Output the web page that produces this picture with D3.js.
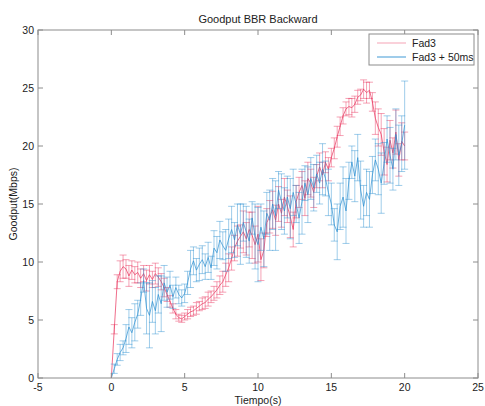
<!DOCTYPE html>
<html>
<head>
<meta charset="utf-8">
<script src="https://cdn.jsdelivr.net/npm/d3@7"></script>
<style>
  body { margin: 0; background: #fff; }
  text { font-family: "Liberation Sans", Arial, sans-serif; }
</style>
</head>
<body>
<svg id="chart" width="485" height="406"></svg>
<script>
// time axis (s), one sample every 0.2 s
const times = d3.range(0, 101).map(i => +(i * 0.2).toFixed(1));

// Fad3
const fad3 = [
  0, 4.2, 8.3, 9.2, 9.6, 9.4, 8.8, 9.3, 8.9, 9.1,
  8.6, 9.0, 8.4, 8.9, 8.5, 9.0, 8.7, 8.3, 7.8, 7.2,
  6.6, 6.0, 5.5, 5.2, 5.1, 5.3, 5.5, 5.7, 5.8, 6.0,
  6.2, 6.4, 6.5, 6.8, 7.0, 7.3, 7.6, 8.0, 8.3, 8.9,
  9.5, 10.3, 11.2, 11.8, 12.2, 12.6, 12.0, 12.8, 12.3, 11.5,
  12.4, 10.2, 11.0, 13.4, 13.9, 14.5, 13.6, 15.0, 14.2, 15.6,
  14.8, 13.9, 12.8, 15.2, 16.0, 16.6, 15.5, 17.2, 16.8, 16.0,
  17.4, 18.2, 17.5, 18.6, 18.0, 19.0, 19.8, 20.8, 21.7, 22.6,
  23.2, 23.4, 23.3, 23.6, 24.2, 24.4, 24.9, 24.6, 24.8, 23.8,
  22.4, 21.6, 21.0, 19.5, 18.4, 20.5, 19.4, 21.2, 18.8, 20.4,
  20.0
];
const fad3Err = [
  0, 0.4, 0.6, 0.9, 1.0, 0.8, 0.9, 0.8, 0.7, 0.9,
  0.8, 0.7, 0.9, 0.8, 0.7, 0.9, 0.8, 0.7, 0.8, 0.6,
  0.5, 0.4, 0.4, 0.3, 0.3, 0.3, 0.4, 0.4, 0.4, 0.5,
  0.4, 0.5, 0.5, 0.6, 0.5, 0.6, 0.7, 0.8, 0.9, 1.0,
  1.2, 1.0, 1.1, 1.3, 1.0, 1.8, 1.4, 1.5, 2.0, 1.6,
  2.4, 1.8, 1.5, 1.2, 1.4, 1.6, 1.3, 1.5, 1.2, 1.6,
  1.4, 1.8, 1.5, 1.4, 1.3, 1.2, 1.5, 1.4, 1.2, 1.3,
  1.0, 1.2, 1.1, 0.9, 1.0, 0.8, 0.9, 0.9, 0.8, 0.7,
  0.6, 0.7, 0.8, 0.7, 0.6, 0.5, 0.8, 0.9, 0.7, 0.8,
  1.4, 1.6, 1.8, 2.0, 1.5, 1.7, 1.3, 1.9, 1.4, 1.6,
  1.2
];

// Fad3 + 50ms
const fad3d = [
  0, 0.8, 1.6, 2.2, 2.6, 3.4, 4.4, 3.9, 4.8, 5.5,
  6.8, 8.4, 6.0, 5.4, 6.6, 5.8, 7.2, 6.4, 8.2, 7.4,
  8.0, 7.0, 7.8, 7.2, 6.9, 7.3, 8.2, 9.4, 10.1, 9.3,
  9.8, 10.2, 9.6, 10.4, 9.5, 11.2, 10.8, 11.9, 11.4, 11.0,
  12.0, 12.8, 11.9, 13.2, 12.4, 13.4, 12.6, 11.8, 13.8, 12.2,
  11.5, 13.0, 12.0, 14.2, 13.6, 15.0, 14.0, 16.2, 15.2, 14.4,
  15.6, 14.6, 16.0, 15.0, 13.8, 15.2, 16.8, 15.8, 17.2, 16.4,
  17.6, 16.8, 18.0, 17.2, 16.0, 15.0, 13.2, 12.6, 14.8, 15.6,
  14.4, 17.0, 18.6, 17.4, 19.0, 16.2, 14.8, 16.0, 15.4, 17.5,
  18.8, 18.0, 16.8, 18.5, 20.6, 19.2, 18.0, 21.0, 19.2, 20.2,
  21.8
];
const fad3dErr = [
  0, 0.4, 0.5, 0.7, 0.6, 1.2, 1.5, 1.3, 1.6, 1.2,
  1.4, 1.0, 2.2, 2.8, 1.8, 2.0, 1.6, 2.4, 1.5, 1.3,
  1.2, 1.0, 0.9, 0.8, 0.7, 0.8, 1.0, 1.6, 1.2, 1.0,
  1.4, 1.2, 1.1, 1.3, 1.0, 1.5, 1.4, 1.6, 1.2, 1.8,
  1.7, 2.0, 1.5, 1.8, 2.6, 1.6, 2.2, 1.9, 1.4, 2.8,
  3.2, 2.0, 2.4, 1.8, 2.6, 2.2, 3.0, 1.6, 2.4, 2.0,
  1.8, 2.6, 2.0, 1.6, 2.2, 2.8, 1.5, 2.4, 1.8, 2.0,
  1.6, 1.8, 2.2, 1.5, 2.0, 1.8, 1.4, 2.4, 2.0, 2.6,
  2.8, 1.6, 1.4, 2.2, 2.0, 2.5, 1.8, 2.0, 2.4, 1.6,
  1.8, 2.2, 2.6, 1.8, 2.0, 2.4, 1.8, 2.2, 2.6, 2.4,
  3.8
];

const xTicks = [-5, 0, 5, 10, 15, 20, 25];
const yTicks = [0, 5, 10, 15, 20, 25, 30];

const svg = d3.select("#chart");
const mLeft = 38, mRight = 478, mTop = 30, mBottom = 378;

const x = d3.scaleLinear().domain([-5, 25]).range([mLeft, mRight]);
const y = d3.scaleLinear().domain([0, 30]).range([mBottom, mTop]);

const series = [
  { name: "Fad3", vals: fad3, err: fad3Err, color: "#e8305a" },
  { name: "Fad3 + 50ms", vals: fad3d, err: fad3dErr, color: "#2b8fd0" }
];

// draw each series: error bars then line
series.forEach(function (s) {
  const pts = times.map((t, i) => ({ t: t, v: s.vals[i], e: s.err[i] }));
  const g = svg.append("g");
  const eb = g.selectAll("g").data(pts.filter(d => d.e > 0)).enter().append("g")
    .attr("stroke", s.color)
    .attr("stroke-opacity", 0.45)
    .attr("stroke-width", 1);
  eb.append("line")
    .attr("x1", d => x(d.t)).attr("x2", d => x(d.t))
    .attr("y1", d => y(d.v - d.e)).attr("y2", d => y(d.v + d.e));
  eb.append("line")
    .attr("x1", d => x(d.t) - 3.5).attr("x2", d => x(d.t) + 3.5)
    .attr("y1", d => y(d.v - d.e)).attr("y2", d => y(d.v - d.e));
  eb.append("line")
    .attr("x1", d => x(d.t) - 3.5).attr("x2", d => x(d.t) + 3.5)
    .attr("y1", d => y(d.v + d.e)).attr("y2", d => y(d.v + d.e));

  g.append("path")
    .datum(pts)
    .attr("fill", "none")
    .attr("stroke", s.color)
    .attr("stroke-opacity", 0.7)
    .attr("stroke-width", 1)
    .attr("d", d3.line().x(d => x(d.t)).y(d => y(d.v)));
});

// axes box
const axColor = "#8c8c8c";
svg.append("rect")
  .attr("x", mLeft).attr("y", mTop)
  .attr("width", mRight - mLeft).attr("height", mBottom - mTop)
  .attr("fill", "none").attr("stroke", axColor).attr("stroke-width", 1);

// ticks pointing in, all four sides
svg.append("g").selectAll("line").data(xTicks).enter().append("line")
  .attr("x1", d => x(d)).attr("x2", d => x(d))
  .attr("y1", mBottom).attr("y2", mBottom - 5).attr("stroke", axColor);
svg.append("g").selectAll("line").data(xTicks).enter().append("line")
  .attr("x1", d => x(d)).attr("x2", d => x(d))
  .attr("y1", mTop).attr("y2", mTop + 5).attr("stroke", axColor);
svg.append("g").selectAll("line").data(yTicks).enter().append("line")
  .attr("x1", mLeft).attr("x2", mLeft + 5)
  .attr("y1", d => y(d)).attr("y2", d => y(d)).attr("stroke", axColor);
svg.append("g").selectAll("line").data(yTicks).enter().append("line")
  .attr("x1", mRight).attr("x2", mRight - 5)
  .attr("y1", d => y(d)).attr("y2", d => y(d)).attr("stroke", axColor);

// tick labels
svg.append("g").selectAll("text").data(xTicks).enter().append("text")
  .attr("x", d => x(d)).attr("y", mBottom + 13)
  .attr("text-anchor", "middle").attr("font-size", 10.5).attr("fill", "#222")
  .text(d => d);
svg.append("g").selectAll("text").data(yTicks).enter().append("text")
  .attr("x", mLeft - 4).attr("y", d => y(d) + 4)
  .attr("text-anchor", "end").attr("font-size", 10.5).attr("fill", "#222")
  .text(d => d);

// title and labels
svg.append("text").attr("x", (mLeft + mRight) / 2).attr("y", 23)
  .attr("text-anchor", "middle").attr("font-size", 11).attr("fill", "#222")
  .text("Goodput BBR Backward");
svg.append("text").attr("x", (mLeft + mRight) / 2).attr("y", 404)
  .attr("text-anchor", "middle").attr("font-size", 10.5).attr("fill", "#222")
  .text("Tiempo(s)");
svg.append("text")
  .attr("transform", "translate(17," + ((mTop + mBottom) / 2) + ") rotate(-90)")
  .attr("text-anchor", "middle").attr("font-size", 10.5).attr("fill", "#222")
  .text("Goodput(Mbps)");

// legend
const lg = svg.append("g");
lg.append("rect").attr("x", 369).attr("y", 34).attr("width", 105).attr("height", 31)
  .attr("fill", "#fff").attr("stroke", axColor);
series.forEach(function (s, i) {
  lg.append("line")
    .attr("x1", 377).attr("x2", 406)
    .attr("y1", 43 + i * 14).attr("y2", 43 + i * 14)
    .attr("stroke", s.color).attr("stroke-opacity", 0.45)
    .attr("stroke-width", i === 1 ? 2 : 1);
  lg.append("text").attr("x", 412).attr("y", 47 + i * 14)
    .attr("font-size", 10.5).attr("fill", "#222")
    .text(s.name);
});
</script>
</body>
</html>
